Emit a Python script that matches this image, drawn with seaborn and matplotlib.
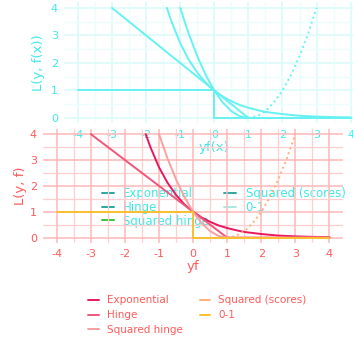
import numpy as np
import pandas as pd
import seaborn as sns
import matplotlib.pyplot as plt
from matplotlib.lines import Line2D

# values
exp_x = [-1.39, -1.25, -1.0, -0.75, -0.5, -0.25, 0.0, 0.25, 0.5, 0.75, 1.0, 1.25, 1.5, 2.0, 2.5, 3.0, 3.5, 4.0]
exp_y = [4.0, 3.49, 2.72, 2.12, 1.65, 1.28, 1.0, 0.78, 0.61, 0.47, 0.37, 0.29, 0.22, 0.14, 0.08, 0.05, 0.03, 0.02]
hinge_x = [-3.0, 1.0, 4.0]
hinge_y = [4.0, 0.0, 0.0]
sqh_x = [-1.0, -0.75, -0.5, -0.25, 0.0, 0.25, 0.5, 0.75, 1.0, 4.0]
sqh_y = [4.0, 3.06, 2.25, 1.56, 1.0, 0.56, 0.25, 0.06, 0.0, 0.0]
sqs_x = [1.0, 1.25, 1.5, 1.75, 2.0, 2.25, 2.5, 2.75, 3.0]
sqs_y = [0.0, 0.06, 0.25, 0.56, 1.0, 1.56, 2.25, 3.06, 4.0]
zo_x = [-4.0, 0.0, 0.0, 4.0]
zo_y = [1.0, 1.0, 0.0, 0.0]

labels = ["Exponential", "Hinge", "Squared hinge", "Squared (scores)", "0-1"]
ticks_x = [-4, -3, -2, -1, 0, 1, 2, 3, 4]
ticks_y = [0, 1, 2, 3, 4]

series = [(exp_x, exp_y, "-"), (hinge_x, hinge_y, "-"), (sqh_x, sqh_y, "-"),
          (sqs_x, sqs_y, ":"), (zo_x, zo_y, "-")]

pink_cols = ["#e8175d", "#f0567a", "#f9a0a0", "#fdb07a", "#fbc02d"]
cyan = "#66f2f2"
cyan_text = "#40e8e8"
red_text = "#ff5a5a"

sns.set_theme(style="white")
plt.rcParams["axes.unicode_minus"] = False
fig = plt.figure(figsize=(3.53, 3.42), dpi=100)


def style_axes(ax, grid_col, minor_col, text_col):
    ax.set_xlim(-4.4, 4.4)
    ax.set_ylim(-0.2, 4.2)
    ax.set_xticks(ticks_x)
    ax.set_yticks(ticks_y)
    ax.set_xticks(np.arange(-4.0, 4.01, 0.5), minor=True)
    ax.set_yticks(np.arange(0.0, 4.01, 0.5), minor=True)
    ax.grid(True, which="major", color=grid_col, lw=1.1)
    ax.grid(True, which="minor", color=minor_col, lw=0.9)
    ax.set_axisbelow(True)
    for s in ax.spines.values():
        s.set_visible(False)
    ax.tick_params(which="major", length=2.5, width=0.8, color=grid_col,
                   labelcolor=text_col, labelsize=8, pad=2)
    ax.tick_params(which="minor", length=0)


# top (cyan) panel, partly out of frame
ax_top = fig.add_axes([0.182, 0.639, 0.85, 0.354])
for (xs, ys, ls), lab in zip(series, labels):
    sns.lineplot(x=xs, y=ys, ax=ax_top, color=cyan, lw=1.4, linestyle=ls,
                 estimator=None, sort=False)
style_axes(ax_top, "#d8fbfb", "#ebfdfd", cyan_text)
ax_top.set_xlabel("yf(x)", color=cyan_text, fontsize=9.5, labelpad=1)
ax_top.set_ylabel("L(y, f(x))", color=cyan_text, fontsize=9.5, labelpad=4)
top_handles = [Line2D([], [], color=c, lw=1.4) for c in
               ["#2aa7a0", "#2aa7a0", "#3cc43c", "#2aa7a0", "#a8e8e0"]]
ax_top.legend(top_handles, labels, ncol=2, loc="upper left",
              bbox_to_anchor=(0.09, -0.44), frameon=False,
              fontsize=8.5, handlelength=1.0, handletextpad=0.8,
              columnspacing=1.3, labelspacing=0.05, labelcolor=cyan_text)

# bottom (pink) panel
ax = fig.add_axes([0.122, 0.29, 0.85, 0.333])
ax.set_facecolor("none")
for (xs, ys, ls), lab, c in zip(series, labels, pink_cols):
    sns.lineplot(x=xs, y=ys, ax=ax, color=c, lw=1.4, linestyle=ls,
                 estimator=None, sort=False)
style_axes(ax, "#ffb8b8", "#ffcfcf", red_text)
ax.set_xlabel("yf", color=red_text, fontsize=9.5, labelpad=1)
ax.set_ylabel("L(y, f)", color=red_text, fontsize=9.5, labelpad=2)
handles = [Line2D([], [], color=c, lw=1.4) for c in pink_cols]
ax.legend(handles, labels, ncol=2, loc="upper left",
          bbox_to_anchor=(0.12, -0.38), frameon=False, fontsize=7.5,
          handlelength=1.0, handletextpad=0.8, columnspacing=1.6,
          labelspacing=0.45, labelcolor=red_text)

fig.savefig("out.png", dpi=100)
